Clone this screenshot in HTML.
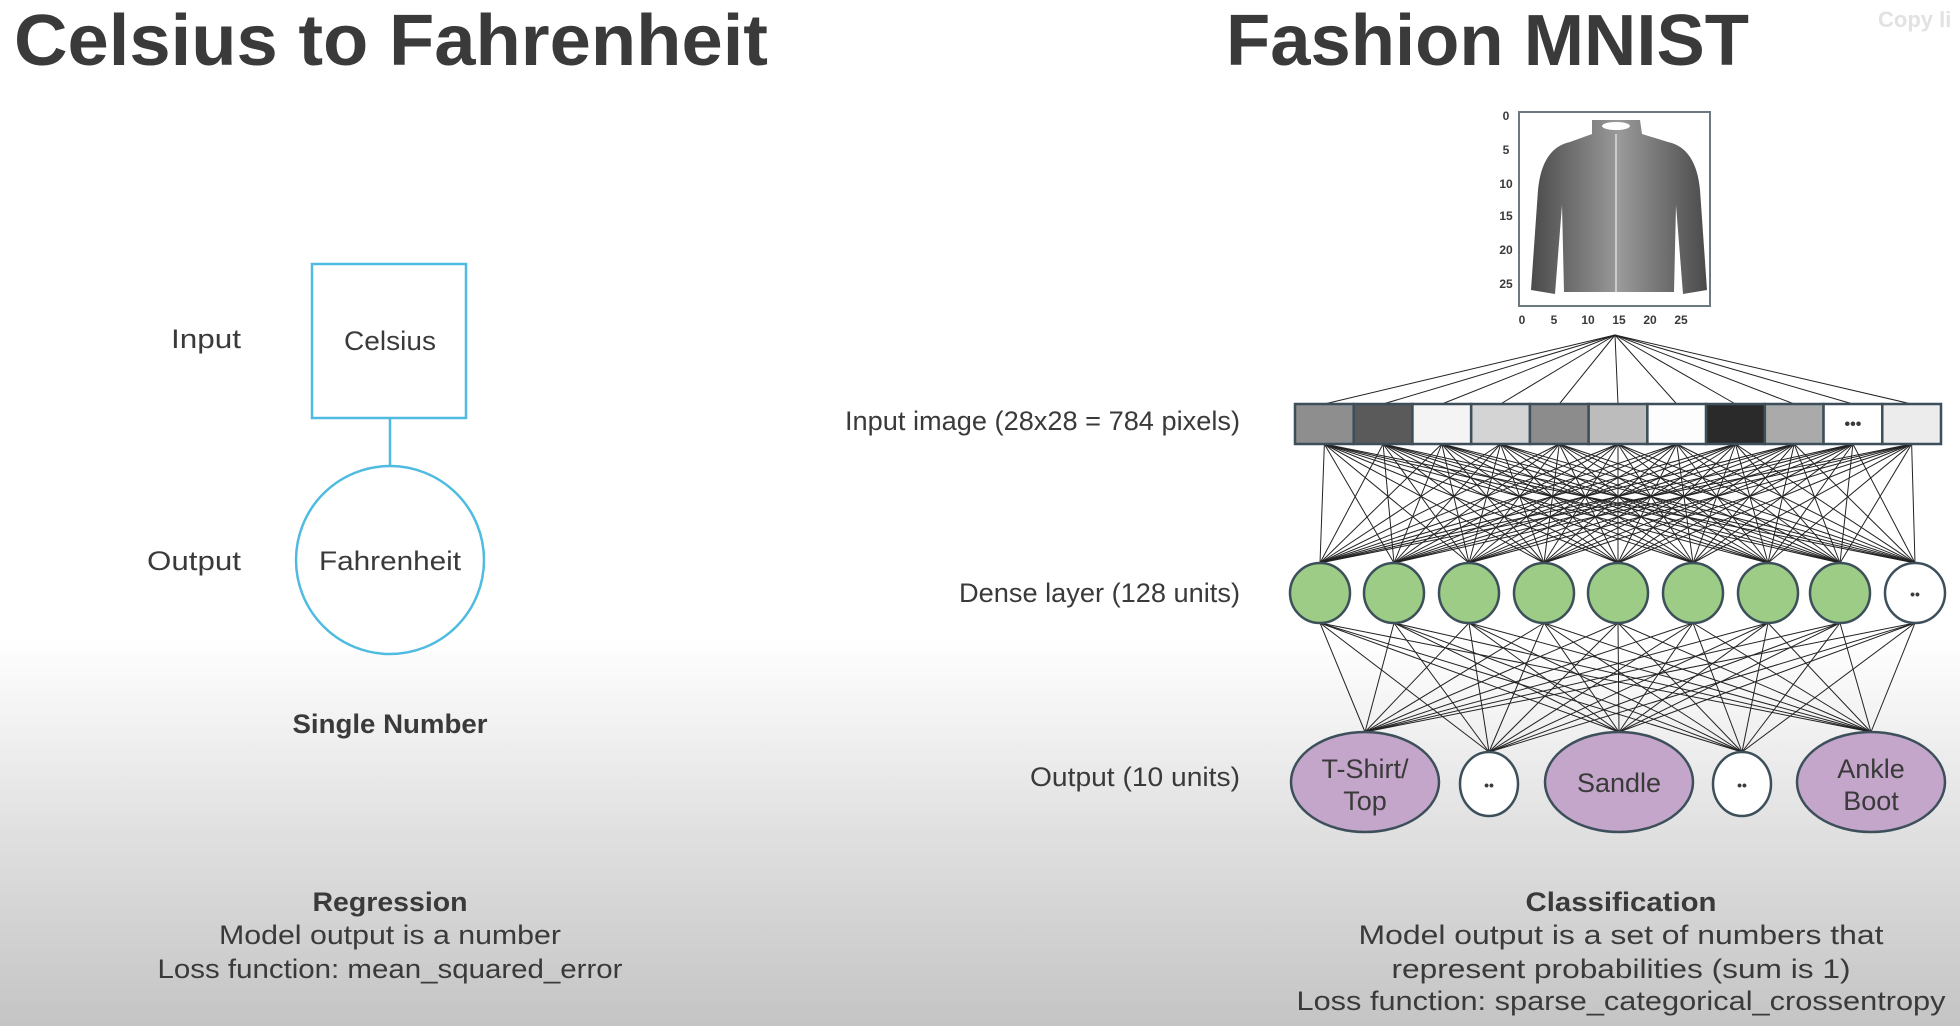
<!DOCTYPE html>
<html><head><meta charset="utf-8">
<style>
html,body{margin:0;padding:0;width:1960px;height:1026px;overflow:hidden;}
body{background:linear-gradient(to bottom,#ffffff 0px,#ffffff 640px,#e2e2e2 820px,#c4c4c4 1026px);font-family:"Liberation Sans",sans-serif;}
svg{position:absolute;left:0;top:0;}
text{font-family:"Liberation Sans",sans-serif;fill:#3a3a3a;}
</style></head><body>
<svg id="s" width="1960" height="1026" viewBox="0 0 1960 1026" xmlns="http://www.w3.org/2000/svg">
<defs>
<linearGradient id="sh" x1="0" x2="1" y1="0" y2="0">
<stop offset="0" stop-color="#4a4a4a"/><stop offset="0.5" stop-color="#9a9a9a"/><stop offset="1" stop-color="#4a4a4a"/>
</linearGradient>
</defs>
<text x="14" y="65" font-size="72" font-weight="bold" textLength="754" lengthAdjust="spacingAndGlyphs" fill="#333">Celsius to Fahrenheit</text>
<text x="1226" y="65" font-size="72" font-weight="bold" textLength="523" lengthAdjust="spacingAndGlyphs" fill="#333">Fashion MNIST</text>
<text x="1878" y="27" font-size="22" font-weight="bold" style="fill:#e2e2e2">Copy li</text>

<!-- left -->
<rect x="312" y="264" width="154" height="154" fill="#fff" stroke="#4fbbe0" stroke-width="2.5"/>
<line x1="390" y1="418" x2="390" y2="466" stroke="#4fbbe0" stroke-width="2.5"/>
<circle cx="390" cy="560" r="94" fill="#fff" stroke="#4fbbe0" stroke-width="2.5"/>
<text x="390" y="350" font-size="27" text-anchor="middle" textLength="92" lengthAdjust="spacingAndGlyphs">Celsius</text>
<text x="390" y="570" font-size="27" text-anchor="middle" textLength="142" lengthAdjust="spacingAndGlyphs">Fahrenheit</text>
<text x="241" y="348" font-size="27" text-anchor="end" textLength="70" lengthAdjust="spacingAndGlyphs">Input</text>
<text x="241" y="570" font-size="27" text-anchor="end" textLength="94" lengthAdjust="spacingAndGlyphs">Output</text>
<text x="390" y="733" font-size="27" text-anchor="middle" font-weight="bold" textLength="195" lengthAdjust="spacingAndGlyphs">Single Number</text>
<text x="390" y="911" font-size="27" text-anchor="middle" font-weight="bold" textLength="155" lengthAdjust="spacingAndGlyphs">Regression</text>
<text x="390" y="944" font-size="27" text-anchor="middle" textLength="342" lengthAdjust="spacingAndGlyphs">Model output is a number</text>
<text x="390" y="978" font-size="27" text-anchor="middle" textLength="465" lengthAdjust="spacingAndGlyphs">Loss function: mean_squared_error</text>

<!-- right labels -->
<text x="1240" y="430" font-size="27" text-anchor="end" textLength="395" lengthAdjust="spacingAndGlyphs">Input image (28x28 = 784 pixels)</text>
<text x="1240" y="602" font-size="27" text-anchor="end" textLength="281" lengthAdjust="spacingAndGlyphs">Dense layer (128 units)</text>
<text x="1240" y="786" font-size="27" text-anchor="end" textLength="210" lengthAdjust="spacingAndGlyphs">Output (10 units)</text>
<text x="1621" y="911" font-size="27" text-anchor="middle" font-weight="bold" textLength="191" lengthAdjust="spacingAndGlyphs">Classification</text>
<text x="1621" y="944" font-size="27" text-anchor="middle" textLength="525" lengthAdjust="spacingAndGlyphs">Model output is a set of numbers that</text>
<text x="1621" y="978" font-size="27" text-anchor="middle" textLength="459" lengthAdjust="spacingAndGlyphs">represent probabilities (sum is 1)</text>
<text x="1621" y="1010" font-size="27" text-anchor="middle" textLength="649" lengthAdjust="spacingAndGlyphs">Loss function: sparse_categorical_crossentropy</text>

<!-- shirt -->
<rect x="1519" y="112" width="191" height="194" fill="#fff" stroke="#6a7a80" stroke-width="2"/>
<path d="M1592 120 L1640 120 L1642 134 L1668 142 Q1696 148 1700 190 L1707 290 L1683 294 L1676 205 L1674 292 L1564 292 L1562 205 L1555 294 L1531 290 L1538 190 Q1542 148 1570 142 L1592 134 Z" fill="url(#sh)"/>
<ellipse cx="1616" cy="126" rx="14" ry="4" fill="#fff"/>
<line x1="1616" y1="134" x2="1616" y2="292" stroke="#ddd" stroke-width="1.5"/>
<g font-size="12" font-weight="bold" text-anchor="middle">
<text x="1506" y="120">0</text><text x="1506" y="154">5</text><text x="1506" y="188">10</text><text x="1506" y="220">15</text><text x="1506" y="254">20</text><text x="1506" y="288">25</text>
<text x="1522" y="324">0</text><text x="1554" y="324">5</text><text x="1588" y="324">10</text><text x="1619" y="324">15</text><text x="1650" y="324">20</text><text x="1681" y="324">25</text>
</g>
<g id="lines" stroke="#222" stroke-width="1"></g>
<g id="shapes"></g>
</svg>
<script>
(function(){
var NS="http://www.w3.org/2000/svg";
function el(p,t,a){var e=document.createElementNS(NS,t);for(var k in a)e.setAttribute(k,a[k]);p.appendChild(e);return e;}
var L=document.getElementById('lines'),S=document.getElementById('shapes');
var x0=1295,x1=1941,n=11,w=(x1-x0)/n,yTop=404,yBot=444;
var cols=['#8e8e8e','#5a5a5a','#f4f4f4','#d4d4d4','#8c8c8c','#bcbcbc','#fdfdfd','#2a2a2a','#aaaaaa','#ffffff','#ececec'];
var cx=[];for(var i=0;i<n;i++)cx.push(x0+w*i+w/2);
for(var i=0;i<n;i++)el(L,'line',{x1:1615,y1:335,x2:cx[i],y2:yTop});
var dx=[1320,1394,1469,1544,1618,1693,1768,1840,1915],dy=593,dr=30;
for(var i=0;i<n;i++)for(var j=0;j<dx.length;j++)el(L,'line',{x1:cx[i],y1:yBot,x2:dx[j],y2:dy-dr});
var ox=[1365,1489,1619,1742,1871],oy=[732,752,732,752,732];
for(var j=0;j<dx.length;j++)for(var k=0;k<ox.length;k++)el(L,'line',{x1:dx[j],y1:dy+dr,x2:ox[k],y2:oy[k]});
for(var i=0;i<n;i++)el(S,'rect',{x:x0+w*i,y:yTop,width:w,height:yBot-yTop,fill:cols[i],stroke:'#3c4f5a','stroke-width':2.5});
var t=el(S,'text',{x:cx[9],y:429,'font-size':16,'font-weight':'bold','text-anchor':'middle'});t.textContent='•••';
for(var j=0;j<dx.length;j++){var last=j==dx.length-1;el(S,'ellipse',{cx:dx[j],cy:dy,rx:30,ry:30,fill:last?'#fff':'#9ccc85',stroke:'#3c4f5a','stroke-width':2.5});
if(last){var t2=el(S,'text',{x:dx[j],y:dy+6,'font-size':14,'text-anchor':'middle','font-weight':'bold'});t2.textContent='••';}}
var lab=[['T-Shirt/','Top'],null,['Sandle'],null,['Ankle','Boot']];
for(var k=0;k<5;k++){if(lab[k]){el(S,'ellipse',{cx:ox[k],cy:782,rx:74,ry:50,fill:'#c3a6c9',stroke:'#3c4f5a','stroke-width':2.5});
if(lab[k].length==2){var a=el(S,'text',{x:ox[k],y:778,'font-size':27,'text-anchor':'middle'});a.textContent=lab[k][0];var b=el(S,'text',{x:ox[k],y:810,'font-size':27,'text-anchor':'middle'});b.textContent=lab[k][1];}
else{var c=el(S,'text',{x:ox[k],y:792,'font-size':27,'text-anchor':'middle'});c.textContent=lab[k][0];}}
else{el(S,'ellipse',{cx:ox[k],cy:784,rx:29,ry:32,fill:'#fff',stroke:'#3c4f5a','stroke-width':2.5});var d=el(S,'text',{x:ox[k],y:790,'font-size':14,'text-anchor':'middle','font-weight':'bold'});d.textContent='••';}}
})();
</script>
</body></html>
